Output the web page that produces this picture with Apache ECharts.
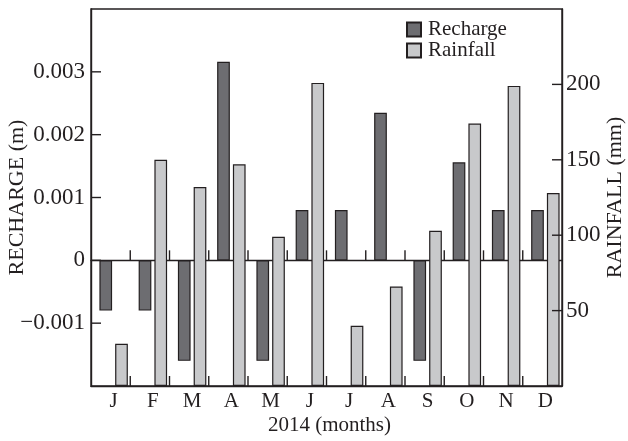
<!DOCTYPE html>
<html>
<head>
<meta charset="utf-8">
<script src="https://cdn.jsdelivr.net/npm/echarts@6/dist/echarts.min.js"></script>
<style>html,body{margin:0;padding:0;background:#fff}#c{width:628px;height:441px}</style>
</head>
<body>
<div id="c"></div>
<script>
var monthKeys = ['Jan','Feb','Mar','Apr','May','Jun','Jul','Aug','Sep','Oct','Nov','Dec'];
var monthLabels = ['J','F','M','A','M','J','J','A','S','O','N','D'];
var recharge = [-0.0008, -0.0008, -0.0016, 0.00316, -0.0016, 0.0008, 0.0008, 0.00235, -0.0016, 0.00156, 0.0008, 0.0008];
var rainfall = [28, 150, 132, 147, 99, 201, 40, 66, 103, 174, 199, 128];
var rechargeTicks = ['-0.001', '0', '0.001', '0.002', '0.003'];
var rainfallTicks = ['50', '100', '150', '200'];
var RECHARGE_MIN = -0.002, RECHARGE_MAX = 0.004;
var RAIN_MIN = 0, RAIN_MAX = 250;

var FONT = 'Liberation Serif';
var TXT = '#231f20';
var LW = 1.4;
var TICK = 10;

// tick rows: [category index, value, kind]  kind 0 = x tick, 1 = left y tick, 2 = right y tick
var leftTickRows = [];
for (var i = 1; i < monthKeys.length; i++) {
  leftTickRows.push([i, RECHARGE_MIN, 0]);
  leftTickRows.push([i, 0, 0]);
}
rechargeTicks.forEach(function (t) { leftTickRows.push([0, Number(t), 1]); });
var rightTickRows = rainfallTicks.map(function (t) { return [monthKeys.length - 1, Number(t), 2]; });

function renderTick(params, api) {
  var kind = api.value(2);
  var p = api.coord([api.value(0), api.value(1)]);
  var band = api.size([1, 0])[0];
  var x1, y1, x2, y2;
  if (kind === 0) {
    x1 = p[0] - band / 2; x2 = x1; y1 = p[1]; y2 = p[1] - TICK;
  } else if (kind === 1) {
    x1 = p[0] - band / 2; x2 = x1 + TICK; y1 = p[1]; y2 = p[1];
  } else {
    x1 = p[0] + band / 2; x2 = x1 - TICK; y1 = p[1]; y2 = p[1];
  }
  return { type: 'line', shape: { x1: x1, y1: y1, x2: x2, y2: y2 }, style: { stroke: TXT, lineWidth: LW } };
}

var chart = echarts.init(document.getElementById('c'));
chart.setOption({
  animation: false,
  backgroundColor: '#fff',
  textStyle: { fontFamily: FONT, color: TXT },
  grid: [
    { left: 91, right: 66, top: 9, bottom: 55, outerBoundsMode: 'none', containLabel: false,
      show: true, borderColor: TXT, borderWidth: LW, backgroundColor: 'transparent' },
    { left: 94, right: 63, top: 9, bottom: 55, outerBoundsMode: 'none', containLabel: false }
  ],
  legend: {
    orient: 'vertical', left: 401, top: 14, itemWidth: 14, itemHeight: 14, itemGap: 0,
    icon: 'rect',
    textStyle: { fontFamily: FONT, fontSize: 21, color: TXT, lineHeight: 21, padding: [0, 0, 0, 2] },
    data: ['Recharge', 'Rainfall']
  },
  xAxis: [{
    gridIndex: 0, type: 'category', data: monthKeys, position: 'bottom',
    axisLine: { onZero: false, lineStyle: { color: TXT, width: LW } },
    axisTick: { show: false },
    axisLabel: { show: false }
  }, {
    gridIndex: 0, type: 'category', data: monthKeys, position: 'bottom',
    axisLine: { show: true, onZero: true, onZeroAxisIndex: 0, lineStyle: { color: TXT, width: LW } },
    axisTick: { show: false },
    axisLabel: { show: false }
  }, {
    gridIndex: 1, type: 'category', data: monthKeys, position: 'bottom',
    axisLine: { show: false, onZero: false }, axisTick: { show: false },
    axisLabel: { fontFamily: FONT, fontSize: 21, color: TXT, margin: 5, interval: 0,
      formatter: function (v, i) { return monthLabels[i]; } },
    name: '2014 (months)', nameLocation: 'middle', nameGap: 29, nameMoveOverlap: false,
    nameTextStyle: { fontFamily: FONT, fontSize: 21, color: TXT }
  }],
  yAxis: [{
    gridIndex: 0, type: 'value', position: 'left', min: RECHARGE_MIN, max: RECHARGE_MAX, interval: 0.001,
    axisLine: { show: true, lineStyle: { color: TXT, width: LW } },
    axisTick: { show: false },
    splitLine: { show: false },
    axisLabel: {
      fontFamily: FONT, fontSize: 23, color: TXT, margin: 6,
      formatter: function (v) {
        var s = v.toFixed(3);
        if (s === '0.000' || s === '-0.000') s = '0';
        if (rechargeTicks.indexOf(s) < 0) return '';
        return s.replace('-', '\u2212');
      }
    },
    name: 'RECHARGE (m)', nameLocation: 'middle', nameRotate: 90, nameGap: 63, nameMoveOverlap: false,
    nameTextStyle: { fontFamily: FONT, fontSize: 22, color: TXT }
  }, {
    gridIndex: 0, type: 'value', position: 'right', min: RAIN_MIN, max: RAIN_MAX, interval: 50,
    axisLine: { show: true, lineStyle: { color: TXT, width: LW } },
    axisTick: { show: false },
    splitLine: { show: false },
    axisLabel: {
      fontFamily: FONT, fontSize: 23, color: TXT, margin: 4,
      formatter: function (v) {
        var s = String(Math.round(v));
        return rainfallTicks.indexOf(s) < 0 ? '' : s;
      }
    },
    name: 'RAINFALL (mm)', nameLocation: 'middle', nameRotate: 90, nameGap: 42, nameMoveOverlap: false,
    nameTextStyle: { fontFamily: FONT, fontSize: 22, color: TXT }
  }, {
    gridIndex: 1, type: 'value', position: 'left', min: RECHARGE_MIN, max: RECHARGE_MAX, interval: 0.001, show: false
  }, {
    gridIndex: 1, type: 'value', position: 'right', min: RAIN_MIN, max: RAIN_MAX, interval: 50, show: false
  }],
  series: [{
    name: 'Recharge', type: 'bar', xAxisIndex: 2, yAxisIndex: 2, data: recharge,
    barWidth: 12.7, barGap: '24%',
    itemStyle: { color: '#6d6d71', borderColor: TXT, borderWidth: 1.2 }
  }, {
    name: 'Rainfall', type: 'bar', xAxisIndex: 2, yAxisIndex: 3, data: rainfall,
    barWidth: 12.7, barGap: '24%',
    itemStyle: { color: '#c8c9cb', borderColor: TXT, borderWidth: 1.2 }
  }, {
    name: 'leftTicks', type: 'custom', xAxisIndex: 0, yAxisIndex: 0, data: leftTickRows,
    renderItem: renderTick, silent: true, z: 5, clip: false, tooltip: { show: false }
  }, {
    name: 'rightTicks', type: 'custom', xAxisIndex: 0, yAxisIndex: 1, data: rightTickRows,
    renderItem: renderTick, silent: true, z: 5, clip: false, tooltip: { show: false }
  }]
});
</script>
</body>
</html>
